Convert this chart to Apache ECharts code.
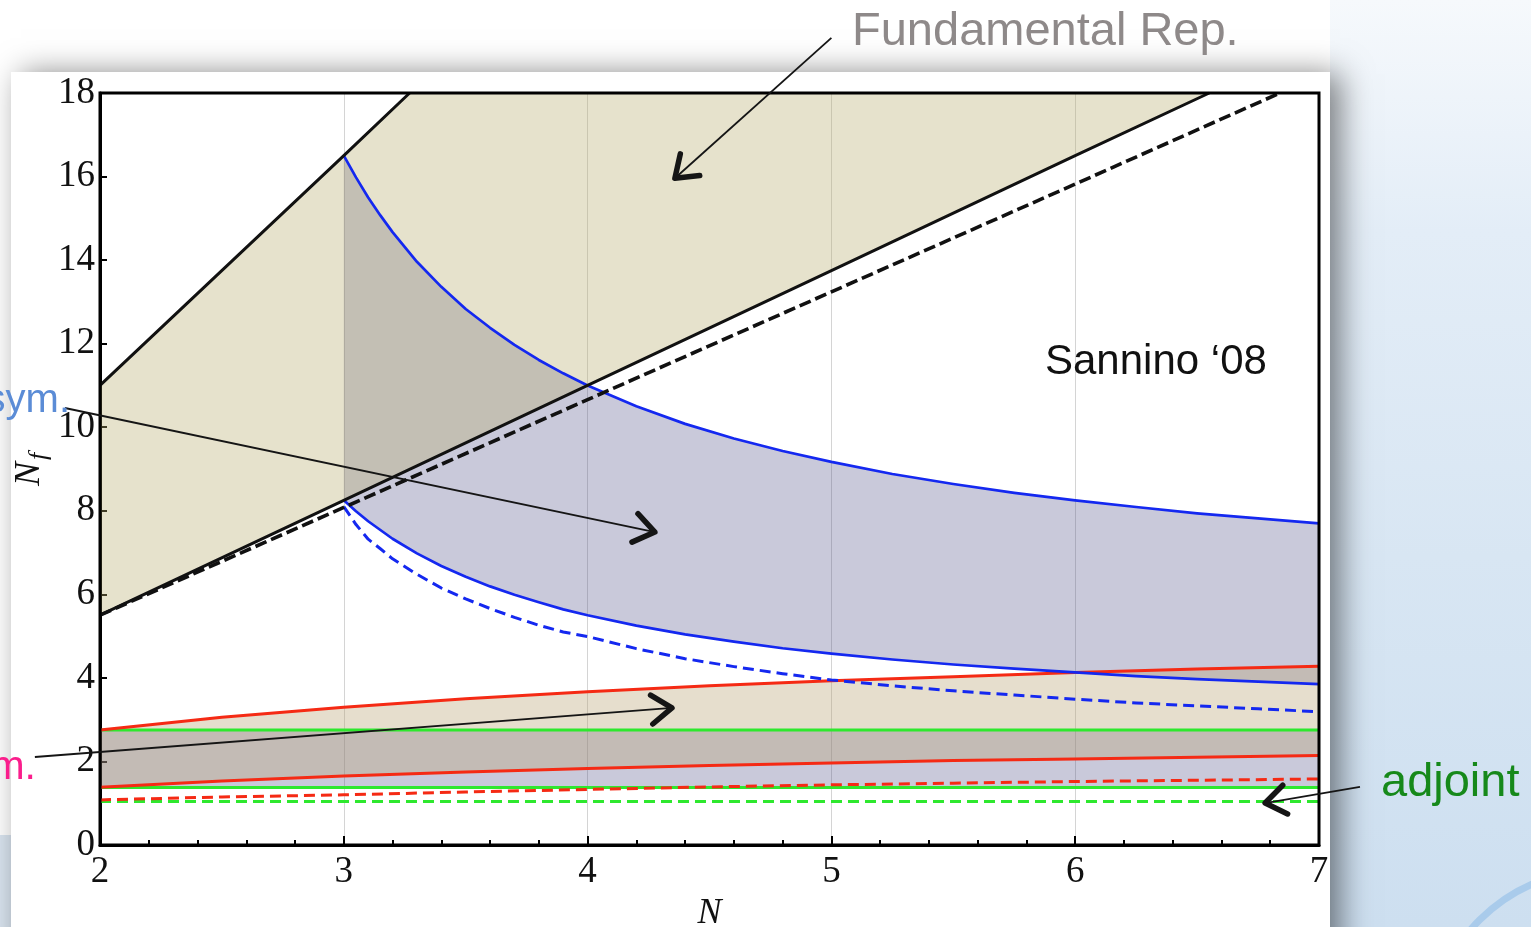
<!DOCTYPE html>
<html>
<head>
<meta charset="utf-8">
<style>
  html, body { margin: 0; padding: 0; background: #ffffff; overflow: hidden; }
  #chart { width: 1531px; height: 927px; }
</style>
<script src="https://cdn.jsdelivr.net/npm/echarts@6/dist/echarts.min.js"></script>
</head>
<body>
<div id="chart"></div>
<script>
// Axis ticks
const xTicks = [2, 3, 4, 5, 6, 7];
const yTicks = [0, 2, 4, 6, 8, 10, 12, 14, 16, 18];

// Fundamental representation
const fundLowerN = [2, 3, 4, 5, 6, 6.55];
const fundLower  = [5.5, 8.25, 11, 13.75, 16.5, 18];
const fundUpperN = [2, 3, 3.27];
const fundUpper  = [11, 16.5, 18];
const fundDashN  = [2, 3, 4, 5, 6, 6.84];
const fundDash   = [5.5, 8.08, 10.66, 13.24, 15.82, 18];

// Two-index antisymmetric
const asN     = [3, 3.05, 3.1, 3.15, 3.2, 3.3, 3.4, 3.5, 3.6, 3.7, 3.8, 3.9, 4, 4.2, 4.4, 4.6, 4.8, 5,
                 5.25, 5.5, 5.75, 6, 6.25, 6.5, 6.75, 7];
const asUpper = [16.5, 15.98, 15.5, 15.07, 14.67, 13.96, 13.36, 12.83, 12.38, 11.97, 11.61, 11.29, 11,
                 10.5, 10.08, 9.73, 9.43, 9.17, 8.88, 8.64, 8.43, 8.25, 8.09, 7.94, 7.82, 7.7];
const asLower = [8.25, 7.99, 7.75, 7.54, 7.33, 6.98, 6.68, 6.42, 6.19, 5.99, 5.81, 5.64, 5.5,
                 5.25, 5.04, 4.87, 4.71, 4.58, 4.44, 4.32, 4.22, 4.13, 4.04, 3.97, 3.91, 3.85];
const asDash  = [8.1, 7.67, 7.32, 7.09, 6.85, 6.48, 6.15, 5.89, 5.66, 5.45, 5.26, 5.1, 4.99,
                 4.7, 4.46, 4.27, 4.1, 3.95, 3.81, 3.69, 3.59, 3.49, 3.4, 3.33, 3.26, 3.19];

// Two-index symmetric
const symN     = [2, 2.5, 3, 3.5, 4, 4.5, 5, 5.5, 6, 6.5, 7];
const symUpper = [2.75, 3.06, 3.3, 3.5, 3.67, 3.81, 3.93, 4.03, 4.13, 4.21, 4.28];
const symLower = [1.38, 1.53, 1.65, 1.75, 1.83, 1.9, 1.96, 2.02, 2.06, 2.1, 2.14];
const symDash  = [1.08, 1.15, 1.2, 1.27, 1.33, 1.39, 1.44, 1.48, 1.52, 1.55, 1.58];

// Adjoint
const adjN     = [2, 7];
const adjUpper = [2.75, 2.75];
const adjLower = [1.375, 1.375];
const adjDash  = [1.04, 1.04];

// Annotation arrows (tail -> head, in N, N_f units)
const arrowTail = [[5.0, 19.32], [1.856, 10.46], [1.733, 2.106], [7.168, 1.39]];
const arrowHead = [[4.358, 15.96], [4.276, 7.49], [4.346, 3.28], [6.779, 1.005]];

const pairs = (xs, ys) => xs.map((x, i) => [x, ys[i]]);

// Closed band between an upper and a lower boundary
function bandSeries(upper, lower, fill) {
  const ring = upper.concat(lower.slice().reverse());
  return {
    type: 'custom',
    z: 1,
    silent: true,
    data: [ring[0]],
    renderItem: function (params, api) {
      return {
        type: 'polygon',
        shape: { points: ring.map(p => api.coord(p)) },
        style: { fill: fill, stroke: null }
      };
    }
  };
}

function curve(xs, ys, color, width, dash) {
  return {
    type: 'line',
    z: 3,
    data: pairs(xs, ys),
    symbol: 'none',
    silent: true,
    lineStyle: { color: color, width: width, type: dash || 'solid', cap: 'butt', join: 'round' }
  };
}

const lavender = 'rgba(75,75,132,0.30)';
const tan      = 'rgba(184,172,109,0.35)';
const symTan   = 'rgba(182,161,112,0.35)';

const BLACK = '#111111', BLUE = '#1428f0', RED = '#f52a14', GREEN = '#2ee82e';
const DASH = [11, 6];

const series = [
  // lavender bands
  bandSeries(pairs(asN, asUpper), pairs(asN, asLower), lavender),
  bandSeries(pairs(adjN, adjUpper), pairs(adjN, adjLower), lavender),
  // tan bands
  bandSeries(pairs(fundUpperN, fundUpper).concat([[fundLowerN[fundLowerN.length - 1], 18]]),
             pairs(fundLowerN, fundLower), tan),
  bandSeries(pairs(symN, symUpper), pairs(symN, symLower), symTan),

  // boundaries
  curve(adjN, adjUpper, GREEN, 3),
  curve(adjN, adjLower, GREEN, 3),
  curve(adjN, adjDash, GREEN, 3, DASH),
  curve(symN, symUpper, RED, 3),
  curve(symN, symLower, RED, 3),
  curve(symN, symDash, RED, 3, DASH),
  curve(asN, asUpper, BLUE, 2.7),
  curve(asN, asLower, BLUE, 2.7),
  curve(asN, asDash, BLUE, 3, DASH),
  curve(fundUpperN, fundUpper, BLACK, 3),
  curve(fundLowerN, fundLower, BLACK, 3),
  curve(fundDashN, fundDash, BLACK, 3.6, [12, 5]),

  // arrows
  {
    type: 'custom',
    z: 20,
    clip: false,
    silent: true,
    data: arrowTail.map((t, i) => [t[0], t[1], arrowHead[i][0], arrowHead[i][1]]),
    encode: { x: [0, 2], y: [1, 3] },
    renderItem: function (params, api) {
      const a = api.coord([api.value(0), api.value(1)]);
      const b = api.coord([api.value(2), api.value(3)]);
      const ang = Math.atan2(b[1] - a[1], b[0] - a[0]);
      const L = 25, spread = 0.62;
      const h1 = [b[0] - L * Math.cos(ang - spread), b[1] - L * Math.sin(ang - spread)];
      const h2 = [b[0] - L * Math.cos(ang + spread), b[1] - L * Math.sin(ang + spread)];
      return {
        type: 'group',
        children: [
          { type: 'line', shape: { x1: a[0], y1: a[1], x2: b[0], y2: b[1] },
            style: { stroke: '#151515', lineWidth: 1.8 } },
          { type: 'polyline', shape: { points: [h1, b, h2] },
            style: { stroke: '#151515', lineWidth: 5.5, fill: null, lineCap: 'round', lineJoin: 'round' } }
        ]
      };
    }
  }
];

const serif = '"Liberation Serif", "DejaVu Serif", serif';
const sans = '"Liberation Sans", Arial, sans-serif';

const option = {
  animation: false,
  backgroundColor: '#ffffff',
  grid: {
    left: 100, right: 212, top: 93, bottom: 82,
    outerBoundsMode: 'none',
    containLabel: false,
    show: true, z: 10,
    borderColor: '#000', borderWidth: 3,
    backgroundColor: 'transparent'
  },
  xAxis: {
    type: 'value',
    min: xTicks[0], max: xTicks[xTicks.length - 1], interval: xTicks[1] - xTicks[0],
    axisLine: { show: true, lineStyle: { color: '#000', width: 3 } },
    axisTick: { show: true, inside: true, length: 9, lineStyle: { color: '#000', width: 2 } },
    minorTick: { show: true, splitNumber: 5, length: 5, lineStyle: { color: '#000', width: 2 } },
    axisLabel: { fontFamily: serif, fontSize: 37, color: '#111', margin: 9 },
    splitLine: { show: true, lineStyle: { color: '#d4d4d4', width: 1 } },
    name: 'N',
    nameLocation: 'middle',
    nameGap: 47,
    nameTextStyle: { fontFamily: serif, fontStyle: 'italic', fontSize: 36, color: '#111' }
  },
  yAxis: {
    type: 'value',
    min: yTicks[0], max: yTicks[yTicks.length - 1], interval: yTicks[1] - yTicks[0],
    axisLine: { show: true, lineStyle: { color: '#000', width: 3 } },
    axisTick: { show: true, inside: true, length: 7, lineStyle: { color: '#000', width: 2 } },
    axisLabel: { fontFamily: serif, fontSize: 37, color: '#111', margin: 5 },
    splitLine: { show: false }
  },
  graphic: [
    // slide backdrop
    { type: 'rect', z: -100, shape: { x: 1330, y: 0, width: 201, height: 927 },
      style: { fill: new echarts.graphic.LinearGradient(0, 0, 0, 1, [
        { offset: 0, color: '#f6f9fc' }, { offset: 0.25, color: '#e3edf7' },
        { offset: 0.6, color: '#d8e6f3' }, { offset: 1, color: '#cddff0' }]) } },
    { type: 'rect', z: -100, shape: { x: 0, y: 835, width: 40, height: 92 },
      style: { fill: '#d9e4ef' } },
    { type: 'arc', z: -90, shape: { cx: 1600, cy: 1040, r: 170, startAngle: Math.PI * 1.08, endAngle: Math.PI * 1.42 },
      style: { stroke: '#a9cbeb', lineWidth: 7, fill: null } },
    // plot sheet with drop shadow
    { type: 'rect', z: -80, shape: { x: 11, y: 72, width: 1319, height: 900 },
      style: { fill: '#ffffff', shadowBlur: 30, shadowColor: 'rgba(0,0,0,0.5)', shadowOffsetX: 10, shadowOffsetY: 2 } },

    // y axis title N_f
    { type: 'group', x: 30, y: 474, rotation: Math.PI / 2, z: 30,
      children: [
        { type: 'text', x: 0, y: 0,
          style: { text: 'N', font: 'italic 36px ' + serif, fill: '#111', align: 'center', verticalAlign: 'middle' } },
        { type: 'text', x: 14, y: 9,
          style: { text: 'f', font: 'italic 26px ' + serif, fill: '#111', align: 'left', verticalAlign: 'middle' } }
      ] },

    // labels
    { type: 'text', x: 852, y: 32, z: 30,
      style: { text: 'Fundamental Rep.', font: '47px ' + sans, fill: '#8e8989', align: 'left', verticalAlign: 'middle' } },
    { type: 'text', x: 1045, y: 362, z: 30,
      style: { text: 'Sannino \u201808', font: '42px ' + sans, fill: '#111', align: 'left', verticalAlign: 'middle' } },
    { type: 'text', x: 70, y: 401, z: 30,
      style: { text: 'sym.', font: '40px ' + sans, fill: '#5b8cd6', align: 'right', verticalAlign: 'middle' } },
    { type: 'text', x: 36, y: 768, z: 30,
      style: { text: 'm.', font: '41px ' + sans, fill: '#fa1e8c', align: 'right', verticalAlign: 'middle' } },
    { type: 'text', x: 1381, y: 783, z: 30,
      style: { text: 'adjoint', font: '47px ' + sans, fill: '#16891a', align: 'left', verticalAlign: 'middle' } }
  ],
  series: series
};

const chart = echarts.init(document.getElementById('chart'), null, { renderer: 'canvas' });
chart.setOption(option);
</script>
</body>
</html>
